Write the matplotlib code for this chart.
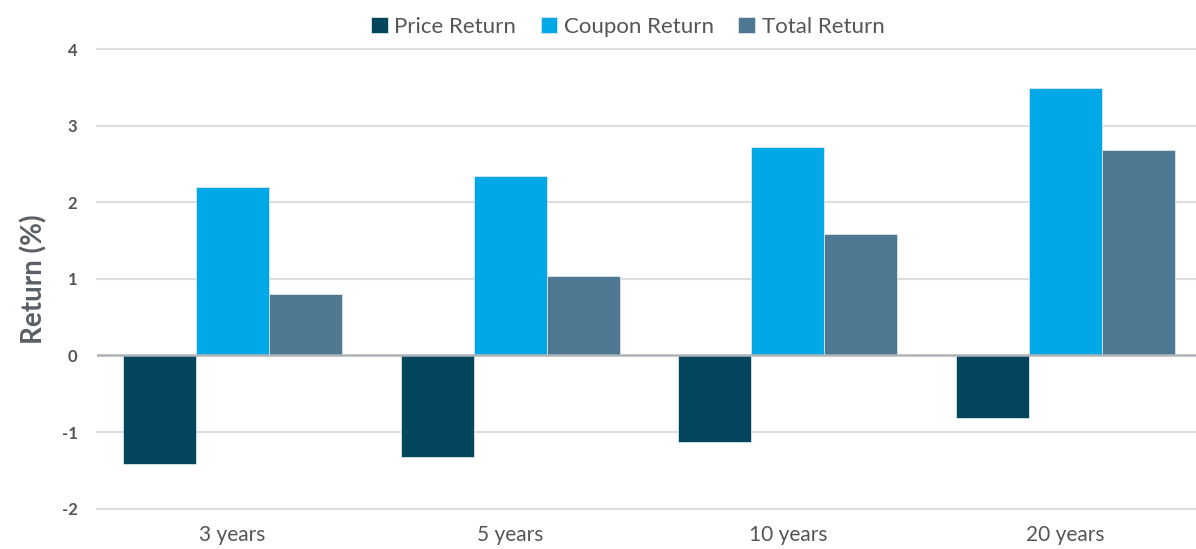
import numpy as np
import matplotlib
matplotlib.use("Agg")
import matplotlib.pyplot as plt

# data
categories = ['3 years', '5 years', '10 years', '20 years']
price_return = [-1.42, -1.32, -1.13, -0.81]
coupon_return = [2.20, 2.34, 2.72, 3.49]
total_return = [0.80, 1.04, 1.59, 2.68]
series_names = ['Price Return', 'Coupon Return', 'Total Return']
colors = ['#03455c', '#00a9e6', '#4e7891']

plt.rcParams['font.family'] = ['Lato', 'DejaVu Sans']
plt.rcParams['axes.unicode_minus'] = False

fig = plt.figure(figsize=(11.96, 5.49), dpi=100)
ax = fig.add_axes([0.081, 0.0734, 0.919, 0.8373])

x = np.arange(len(categories))
width = 0.263
for i, (vals, name) in enumerate(zip([price_return, coupon_return, total_return], series_names)):
    ax.bar(x + (i - 1) * width, vals, width, color=colors[i], label=name,
           edgecolor='#d8e6ee', linewidth=0.6, zorder=3)

ax.set_xlim(-0.489, 3.47)
ax.set_ylim(-2, 4)
ax.set_yticks(range(-2, 5))
ax.set_xticks(x)
ax.set_xticklabels(categories)

for v in range(-2, 5):
    if v == 0:
        continue
    ax.axhline(v, color='#dddddd', linewidth=1.5, zorder=1, clip_on=False)
ax.axhline(0, color='#b0b4b8', linewidth=1.8, zorder=4)

for s in ax.spines.values():
    s.set_visible(False)
ax.tick_params(axis='both', length=0)
ax.tick_params(axis='y', pad=14, labelsize=12, labelcolor='#555555')
ax.tick_params(axis='x', pad=12, labelsize=15, labelcolor='#555555')
for lab in ax.get_yticklabels():
    lab.set_fontweight('bold')

ax.set_ylabel('Return (%)', fontsize=20, fontweight='bold', color='#5a5f66', labelpad=10)

ax.legend(loc='lower center', bbox_to_anchor=(0.483, 1.0), ncol=3, frameon=False,
          fontsize=16, labelcolor='#555555', handlelength=0.75, handleheight=0.75,
          handletextpad=0.3, columnspacing=1.1, borderaxespad=0.15)

fig.savefig('out.png', dpi=100)
